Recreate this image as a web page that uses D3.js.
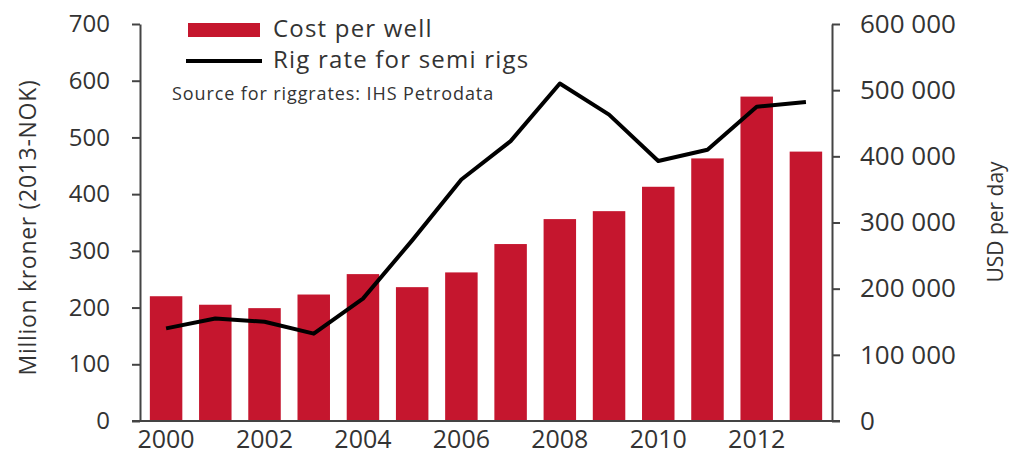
<!DOCTYPE html>
<html>
<head>
<meta charset="utf-8">
<script src="https://cdn.jsdelivr.net/npm/d3@7"></script>
<style>
  body { margin: 0; background: #fff; }
  svg text { font-family: "Open Sans", sans-serif; fill: #333; }
</style>
</head>
<body>
<svg id="chart"></svg>
<script>
const years = [2000, 2001, 2002, 2003, 2004, 2005, 2006, 2007, 2008, 2009, 2010, 2011, 2012, 2013];
const costPerWell = [220, 205, 199, 223, 259, 236, 262, 312, 356, 370, 413, 463, 572, 475];
const rigRate = [140000, 155000, 150000, 132000, 185000, 273000, 365000, 423000, 510000, 463000, 393000, 410000, 475000, 482000];
const leftTicks = [0, 100, 200, 300, 400, 500, 600, 700];
const rightTicks = [0, 100000, 200000, 300000, 400000, 500000, 600000];
const yearLabels = [2000, 2002, 2004, 2006, 2008, 2010, 2012];

const width = 1009, height = 455;
const margin = { top: 24, right: 177, bottom: 34, left: 140 };

const svg = d3.select("#chart")
  .attr("width", width)
  .attr("height", height);

const x = d3.scaleBand()
  .domain(years)
  .range([margin.left, width - margin.right])
  .paddingInner(0.34)
  .paddingOuter(0.2);

const yLeft = d3.scaleLinear()
  .domain([0, 700])
  .range([height - margin.bottom, margin.top]);

const yRight = d3.scaleLinear()
  .domain([0, 600000])
  .range([height - margin.bottom, margin.top]);

const fmt = d3.formatLocale({ decimal: ",", thousands: " ", grouping: [3], currency: ["", ""] }).format(",");

// bars
svg.append("g")
  .selectAll("rect")
  .data(years)
  .enter()
  .append("rect")
  .attr("x", d => x(d))
  .attr("width", x.bandwidth())
  .attr("y", (d, i) => yLeft(costPerWell[i]))
  .attr("height", (d, i) => yLeft(0) - yLeft(costPerWell[i]))
  .attr("fill", "#c5162e");

// axes
const axisColor = "#444";
const styleAxis = size => g => {
  g.select(".domain").attr("stroke", axisColor).attr("stroke-width", 2);
  g.selectAll(".tick line").attr("stroke", axisColor).attr("stroke-width", 2);
  g.selectAll(".tick text").style("font-size", size + "px").attr("fill", "#333");
};

svg.append("g")
  .attr("transform", "translate(" + margin.left + ",0)")
  .call(d3.axisLeft(yLeft).tickValues(leftTicks).tickSize(8).tickSizeOuter(0).tickPadding(22))
  .call(styleAxis(24));

svg.append("g")
  .attr("transform", "translate(" + (width - margin.right) + ",0)")
  .call(d3.axisRight(yRight).tickValues(rightTicks).tickFormat(fmt).tickSize(8).tickSizeOuter(0).tickPadding(20))
  .call(styleAxis(26));

svg.append("g")
  .attr("transform", "translate(0," + yLeft(0) + ")")
  .call(d3.axisBottom(x).tickValues(yearLabels).tickSize(0).tickPadding(9))
  .call(styleAxis(25))
  .call(g => g.select(".domain").attr("d", "M" + (margin.left - 8) + ",0H" + (width - margin.right + 8)));

// line
const line = d3.line()
  .x((d, i) => x(years[i]) + x.bandwidth() / 2)
  .y(d => yRight(d));

svg.append("path")
  .datum(rigRate)
  .attr("d", line)
  .attr("fill", "none")
  .attr("stroke", "#000")
  .attr("stroke-width", 4)
  .attr("stroke-linejoin", "round");

// axis titles
svg.append("text")
  .attr("transform", "translate(36," + ((margin.top + height - margin.bottom) / 2 + 5) + ") rotate(-90)")
  .attr("text-anchor", "middle")
  .style("font-size", "23px")
  .style("letter-spacing", "0.7px")
  .text("Million kroner (2013-NOK)");

svg.append("text")
  .attr("transform", "translate(1003,222) rotate(-90)")
  .attr("text-anchor", "middle")
  .style("font-size", "21px")
  .text("USD per day");

// legend
const legend = svg.append("g");
legend.append("rect")
  .attr("x", 188).attr("y", 23).attr("width", 72).attr("height", 14)
  .attr("fill", "#c5162e");
legend.append("text")
  .attr("x", 273).attr("y", 37)
  .style("font-size", "24px")
  .style("letter-spacing", "1.2px")
  .text("Cost per well");
legend.append("line")
  .attr("x1", 186).attr("x2", 262).attr("y1", 61).attr("y2", 61)
  .attr("stroke", "#000").attr("stroke-width", 4);
legend.append("text")
  .attr("x", 273).attr("y", 68)
  .style("font-size", "24px")
  .style("letter-spacing", "1.2px")
  .text("Rig rate for semi rigs");
legend.append("text")
  .attr("x", 172).attr("y", 100)
  .style("font-size", "18px")
  .style("letter-spacing", "0.9px")
  .text("Source for riggrates: IHS Petrodata");
</script>
</body>
</html>
